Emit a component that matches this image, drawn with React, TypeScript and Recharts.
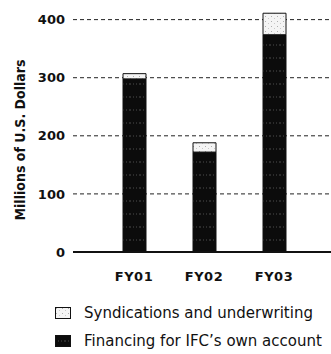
import { BarChart, Bar, XAxis, YAxis, CartesianGrid, Legend } from "recharts";

const years = ["FY01", "FY02", "FY03"];
const ownAccount = [298, 172, 374];
const syndications = [9, 16, 37];
const yTicks = [0, 100, 200, 300, 400];

const data = years.map((year, i) => ({
    year,
    own: ownAccount[i],
    synd: syndications[i],
}));

const FONT = "'DejaVu Sans', sans-serif";

const legendItems = [
    { label: "Syndications and underwriting", fill: "url(#syndPattern)" },
    { label: "Financing for IFC\u2019s own account", fill: "url(#ownPattern)" },
];

function LegendBox() {
    return (
        <div style={{ fontFamily: FONT, fontSize: 15, color: "#111" }}>
            {legendItems.map((item) => (
                <div key={item.label} style={{ display: "flex", alignItems: "center", height: 28 }}>
                    <svg width={16} height={12} style={{ marginRight: 13 }}>
                        <rect x={0.5} y={0.5} width={15} height={11} fill={item.fill} stroke="#111" />
                    </svg>
                    <span>{item.label}</span>
                </div>
            ))}
        </div>
    );
}

export default function App() {
    return (
        <div style={{ position: "absolute", left: 0, top: 0, background: "#fff" }}>
            <BarChart
                width={331}
                height={354}
                data={data}
                margin={{ top: 8, right: 0, bottom: 72, left: 0 }}
            >
                <defs>
                    <pattern id="ownPattern" width={10} height={13} patternUnits="userSpaceOnUse">
                        <rect width={10} height={13} fill="#0c0c0c" />
                        <line x1={0} y1={6} x2={10} y2={6} stroke="#777" strokeWidth={0.6} strokeDasharray="1 2" />
                    </pattern>
                    <pattern id="syndPattern" width={6} height={5} patternUnits="userSpaceOnUse">
                        <rect width={6} height={5} fill="#f4f4f4" />
                        <circle cx={1.5} cy={1.5} r={0.5} fill="#999" />
                        <circle cx={4.5} cy={3.5} r={0.5} fill="#bbb" />
                    </pattern>
                </defs>
                <CartesianGrid
                    vertical={false}
                    horizontalValues={yTicks}
                    stroke="#222"
                    strokeDasharray="4 3"
                />
                <YAxis
                    width={73}
                    domain={[0, 420]}
                    ticks={yTicks}
                    axisLine={false}
                    tickLine={false}
                    tick={{ fontFamily: FONT, fontSize: 13, fontWeight: "bold", fill: "#111" }}
                    label={{
                        value: "Millions of U.S. Dollars",
                        angle: -90,
                        position: "insideLeft",
                        dx: 15,
                        dy: 10,
                        style: {
                            fontFamily: "'DejaVu Sans Condensed', 'DejaVu Sans', sans-serif",
                            fontSize: 14,
                            fontWeight: "bold",
                            fill: "#111",
                            textAnchor: "middle",
                        },
                    }}
                />
                <XAxis
                    dataKey="year"
                    height={30}
                    padding={{ left: 26, right: 22 }}
                    axisLine={{ stroke: "#111", strokeWidth: 2 }}
                    tickLine={false}
                    tickMargin={14}
                    tick={{ fontFamily: FONT, fontSize: 13, fontWeight: "bold", fill: "#111", letterSpacing: 0.5 }}
                />
                <Bar
                    dataKey="own"
                    stackId="a"
                    barSize={23}
                    fill="url(#ownPattern)"
                    stroke="#111"
                    strokeWidth={1}
                    isAnimationActive={false}
                />
                <Bar
                    dataKey="synd"
                    stackId="a"
                    barSize={23}
                    fill="url(#syndPattern)"
                    stroke="#111"
                    strokeWidth={1}
                    isAnimationActive={false}
                />
                <Legend
                    layout="vertical"
                    align="center"
                    verticalAlign="middle"
                    wrapperStyle={{ top: 299, left: 55, width: 276, height: 56 }}
                    content={() => <LegendBox />}
                />
            </BarChart>
        </div>
    );
}
